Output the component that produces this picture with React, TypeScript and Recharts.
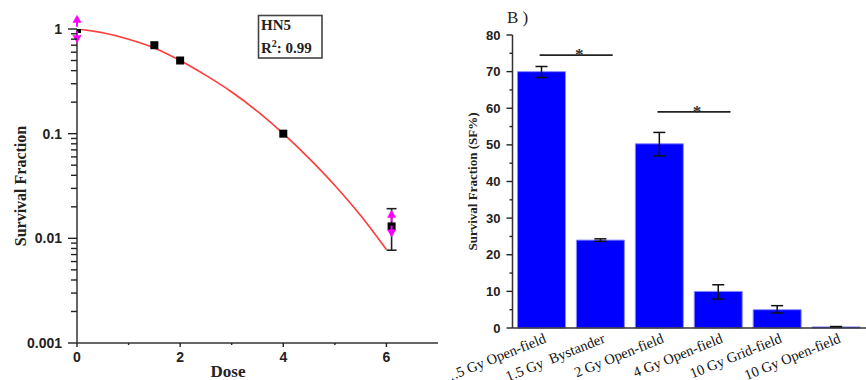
import React from 'react';
import {
  ComposedChart,
  Line,
  Scatter,
  Bar,
  XAxis,
  YAxis,
  ErrorBar,
  ReferenceDot,
  ReferenceLine,
  Label,
} from 'recharts';

// ---------- Left panel data (HN5 survival curve) ----------
const doseTicks = [0, 1, 2, 3, 4, 5, 6];
const sfTicks = [
  0.001, 0.002, 0.003, 0.004, 0.005, 0.006, 0.007, 0.008, 0.009,
  0.01, 0.02, 0.03, 0.04, 0.05, 0.06, 0.07, 0.08, 0.09,
  0.1, 0.2, 0.3, 0.4, 0.5, 0.6, 0.7, 0.8, 0.9, 1,
];
const majorSfTicks = [0.001, 0.01, 0.1, 1];

const pointDose = [0, 1.5, 2, 4, 6.1];
const pointSF = [1, 0.7, 0.5, 0.1, 0.013];
const pointErrLow = [null, null, null, null, 0.0053];
const pointErrHigh = [null, null, null, null, 0.0062];

const fitDose = [0, 0.5, 1, 1.5, 2, 2.5, 3, 3.5, 4, 4.5, 5, 5.5, 6];
const fitSF = [1, 0.92, 0.8, 0.66, 0.5, 0.36, 0.25, 0.163, 0.1, 0.058, 0.032, 0.0165, 0.0078];

const magentaDose = [0, 0, 6.1, 6.1];
const magentaSF = [1.25, 0.8, 0.0172, 0.0111];
const magentaDir = ['up', 'down', 'up', 'down'];

// ---------- Right panel data (bar chart) ----------
const categories = [
  '1.5 Gy Open-field',
  '1.5 Gy  Bystander',
  '2 Gy Open-field',
  '4 Gy Open-field',
  '10 Gy Grid-field',
  '10 Gy Open-field',
];
const sfPercent = [70, 24, 50.3, 10, 5, 0.3];
const sfErrLow = [1.6, 0.35, 3.3, 2.1, 0.9, 0.1];
const sfErrHigh = [1.4, 0.35, 3.1, 1.8, 1.1, 0.1];
const barTicks = [0, 5, 10, 15, 20, 25, 30, 35, 40, 45, 50, 55, 60, 65, 70, 75, 80];

// significance brackets: from category, to category, level (SF%)
const sigFrom = [0, 2];
const sigTo = [1, 3];
const sigLevel = [74.5, 59];

const pointData = pointDose.map((d, i) => ({
  dose: d,
  sf: pointSF[i],
  err: pointErrLow[i] == null ? null : [pointErrLow[i], pointErrHigh[i]],
}));
const fitData = fitDose.map((d, i) => ({ dose: d, sf: fitSF[i] }));
const barData = categories.map((c, i) => ({
  cat: c,
  val: sfPercent[i],
  err: [sfErrLow[i], sfErrHigh[i]],
}));

const SANS = 'Liberation Sans, Arial, sans-serif';
const SERIF = 'Liberation Serif, Times New Roman, serif';
const AXIS = '#333';

const LeftYTick = (props: any) => {
  const { x, y, payload } = props;
  const v = payload.value;
  const major = majorSfTicks.some((m) => Math.abs(m - v) < m * 1e-6);
  return (
    <g>
      <line x1={x - (major ? 9 : 6)} x2={x} y1={y} y2={y} stroke="#222" strokeWidth={1.4} />
      {major && (
        <text x={x - 15} y={y + 5} textAnchor="end" fontFamily={SANS} fontWeight="bold" fontSize={14} fill="#222">
          {String(v)}
        </text>
      )}
    </g>
  );
};

const LeftXTick = (props: any) => {
  const { x, y, payload } = props;
  const v = payload.value;
  const major = v % 2 === 0;
  return (
    <g>
      <line x1={x} x2={x} y1={y} y2={y + (major ? 4 : 2)} stroke="#222" strokeWidth={1.4} />
      {major && (
        <text x={x} y={y + 19} textAnchor="middle" fontFamily={SANS} fontWeight="bold" fontSize={14} fill="#222">
          {v}
        </text>
      )}
    </g>
  );
};

const RightYTick = (props: any) => {
  const { x, y, payload } = props;
  const v = payload.value;
  const major = v % 10 === 0;
  return (
    <g>
      <line x1={x - (major ? 6 : 3)} x2={x} y1={y} y2={y} stroke="#222" strokeWidth={1.4} />
      {major && (
        <text x={x - 12} y={y + 4.5} textAnchor="end" fontFamily={SANS} fontWeight="bold" fontSize={13} fill="#222">
          {v}
        </text>
      )}
    </g>
  );
};

const RightXTick = (props: any) => {
  const { x, y, payload } = props;
  const tx = x + 5;
  const ty = y + 14;
  return (
    <text
      x={tx}
      y={ty}
      transform={`rotate(-22, ${tx}, ${ty})`}
      textAnchor="end"
      fontFamily={SERIF}
      fontSize={14.5}
      fill="#111"
      style={{ whiteSpace: 'pre' }}
    >
      {payload.value}
    </text>
  );
};

const Triangle = (dir: string) => (props: any) => {
  const { cx, cy } = props;
  if (cx == null || cy == null) return null;
  const w = 4.5;
  const h = 8;
  const pts =
    dir === 'up'
      ? `${cx - w},${cy + h / 2} ${cx + w},${cy + h / 2} ${cx},${cy - h / 2}`
      : `${cx - w},${cy - h / 2} ${cx + w},${cy - h / 2} ${cx},${cy + h / 2}`;
  const stemEnd = dir === 'up' ? cy + h / 2 + 4 : cy - h / 2 - 4;
  return (
    <g>
      <line x1={cx} x2={cx} y1={cy} y2={stemEnd} stroke="#ff00ff" strokeWidth={2} />
      <polygon points={pts} fill="#ff00ff" stroke="none" />
    </g>
  );
};

const SigBracket = (props: any) => {
  const { x1, x2, y1 } = props;
  if (x1 == null || x2 == null || y1 == null) return null;
  const band = x2 - x1;
  const xs = x1 - band * 0.04;
  const xe = x2 + band * 0.2;
  const mid = (xs + xe) / 2 + 3;
  return (
    <g>
      <line x1={xs} x2={xe} y1={y1} y2={y1} stroke="#222" strokeWidth={1.8} />
      <text x={mid} y={y1 + 5} textAnchor="middle" fontFamily={SERIF} fontSize={17} fontWeight="bold" fill="#333">
        *
      </text>
    </g>
  );
};

export default function App() {
  return (
    <div style={{ position: 'absolute', left: 0, top: 0, width: 866, height: 380, background: '#fff', overflow: 'hidden' }}>
      {/* Left panel */}
      <div style={{ position: 'absolute', left: 0, top: 0 }}>
        <ComposedChart width={440} height={380} margin={{ top: 29, right: 2, bottom: 0, left: 0 }}>
          <XAxis
            dataKey="dose"
            type="number"
            domain={[0, 7]}
            ticks={doseTicks}
            interval={0}
            allowDataOverflow
            height={37}
            tickLine={false}
            tickSize={0}
            tickMargin={0}
            tick={<LeftXTick />}
            axisLine={{ stroke: AXIS, strokeWidth: 1.5 }}
            label={
              <Label
                content={() => (
                  <text x={228} y={377} textAnchor="middle" fontFamily={SERIF} fontWeight="bold" fontSize={17} fill="#222">
                    Dose
                  </text>
                )}
              />
            }
          />
          <YAxis
            dataKey="sf"
            type="number"
            scale="log"
            domain={[0.001, 1]}
            allowDataOverflow
            ticks={sfTicks}
            interval={0}
            width={77}
            tickLine={false}
            tickSize={0}
            tickMargin={0}
            tick={<LeftYTick />}
            axisLine={{ stroke: AXIS, strokeWidth: 1.5 }}
            label={
              <Label
                content={(p: any) => {
                  const vb = p.viewBox || { x: 0, y: 29, width: 77, height: 314 };
                  const cx = vb.x + 20;
                  const cy = vb.y + vb.height / 2;
                  return (
                    <text
                      x={cx}
                      y={cy}
                      transform={`rotate(-90, ${cx}, ${cy})`}
                      textAnchor="middle"
                      dominantBaseline="central"
                      fontFamily={SERIF}
                      fontWeight="bold"
                      fontSize={16}
                      fill="#222"
                    >
                      Survival Fraction
                    </text>
                  );
                }}
              />
            }
          />
          <Line
            data={fitData}
            dataKey="sf"
            type="monotone"
            stroke="#ff3b3b"
            strokeWidth={1.6}
            dot={false}
            isAnimationActive={false}
          />
          <Scatter data={pointData} dataKey="sf" fill="#000" shape="square" isAnimationActive={false}>
            <ErrorBar dataKey="err" direction="y" width={5} stroke="#222" strokeWidth={1.6} />
          </Scatter>
          {magentaDose.map((d, i) => (
            <ReferenceDot
              key={i}
              x={d}
              y={magentaSF[i]}
              ifOverflow="visible"
              shape={Triangle(magentaDir[i])}
            />
          ))}
        </ComposedChart>
      </div>

      {/* HN5 annotation box */}
      <svg style={{ position: 'absolute', left: 0, top: 0 }} width={440} height={80}>
        <rect x={258.5} y={15.5} width={63.5} height={42.5} fill="#fff" stroke="#444" strokeWidth={1.6} />
        <text x={261} y={30} fontFamily={SERIF} fontWeight="bold" fontSize={15} fill="#222">
          HN5
        </text>
        <text x={261} y={53} fontFamily={SERIF} fontWeight="bold" fontSize={15} fill="#222">
          R<tspan dy={-6} fontSize={10}>2</tspan>
          <tspan dy={6}>: 0.99</tspan>
        </text>
      </svg>

      {/* Right panel */}
      <div style={{ position: 'absolute', left: 452, top: 0, width: 414, height: 380, overflow: 'hidden' }}>
        <ComposedChart width={414} height={380} data={barData} margin={{ top: 35, right: 0, bottom: 0, left: 0 }}>
          <XAxis
            dataKey="cat"
            type="category"
            height={52}
            interval={0}
            tickLine={false}
            tickSize={0}
            tickMargin={0}
            tick={<RightXTick />}
            axisLine={{ stroke: AXIS, strokeWidth: 1.5 }}
          />
          <YAxis
            type="number"
            domain={[0, 80]}
            ticks={barTicks}
            interval={0}
            width={60.5}
            tickLine={false}
            tickSize={0}
            tickMargin={0}
            tick={<RightYTick />}
            axisLine={{ stroke: AXIS, strokeWidth: 1.5 }}
            label={
              <Label
                content={(p: any) => {
                  const vb = p.viewBox || { x: 0, y: 35, width: 60, height: 293 };
                  const cx = vb.x + 20;
                  const cy = vb.y + vb.height / 2;
                  return (
                    <text
                      x={cx}
                      y={cy}
                      transform={`rotate(-90, ${cx}, ${cy})`}
                      textAnchor="middle"
                      dominantBaseline="central"
                      fontFamily={SERIF}
                      fontWeight="bold"
                      fontSize={13}
                      fill="#222"
                    >
                      Survival Fraction (SF%)
                    </text>
                  );
                }}
              />
            }
          />
          <Bar dataKey="val" fill="#0000ff" stroke="#8c8cff" strokeWidth={1} barSize={48} isAnimationActive={false}>
            <ErrorBar dataKey="err" direction="y" width={6} stroke="#111" strokeWidth={1.5} />
          </Bar>
          {sigFrom.map((s, i) => (
            <ReferenceLine
              key={i}
              segment={[
                { x: categories[s], y: sigLevel[i] },
                { x: categories[sigTo[i]], y: sigLevel[i] },
              ]}
              ifOverflow="visible"
              shape={SigBracket}
            />
          ))}
        </ComposedChart>
        <svg style={{ position: 'absolute', left: 0, top: 0 }} width={120} height={30}>
          <text x={55} y={23} fontFamily={SERIF} fontSize={17} fill="#222">
            B )
          </text>
        </svg>
      </div>
    </div>
  );
}
